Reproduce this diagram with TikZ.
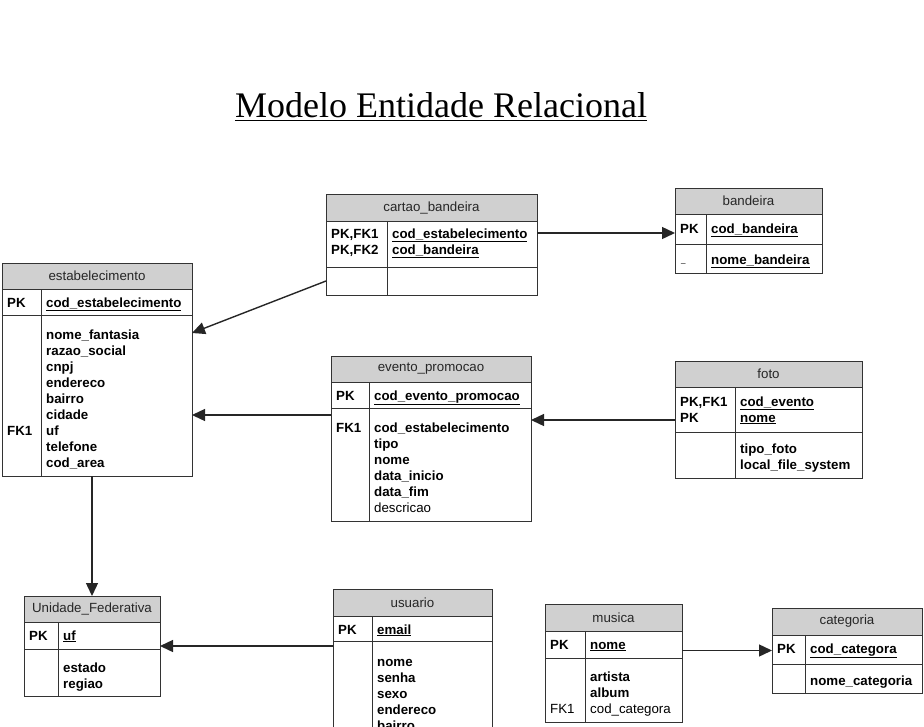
\documentclass[tikz,border=0pt]{standalone}
\usepackage{fontspec}
\setmainfont{Liberation Sans}
\newfontfamily\titlefont{Liberation Serif}
\usetikzlibrary{positioning,arrows.meta}
\definecolor{hdrgray}{RGB}{208,208,208}
\newcommand{\fldsize}{\fontsize{13.3}{16}\selectfont}
% table: name, x, y, width, header h, key h, attr h, divider, title
\newcommand{\ertable}[9]{%
  \node[hdr, minimum width=#4pt, minimum height=#5pt] (#1) at (#2,#3) {#9};
  \node[tblbox, minimum width=#4pt, minimum height=#6pt, below=0pt of #1] (#1-k) {};
  \node[tblbox, minimum width=#4pt, minimum height=#7pt, below=0pt of #1-k] (#1-a) {};
  \draw[rule] ([xshift=#8pt]#1-k.north west) -- ([xshift=#8pt]#1-a.south west);
}

\begin{document}
\begin{tikzpicture}[
  x=1pt, y=-1pt,
  >={Triangle[length=13pt,width=12pt]},
  rule/.style={draw=black!80, line width=0.9pt},
  tblbox/.style={rule, anchor=north west, inner sep=0pt, outer sep=0pt},
  hdr/.style={tblbox, fill=hdrgray, font=\fldsize, text=black!85},
  fld/.style={anchor=base west, inner sep=0pt, font=\fldsize\bfseries},
  reg/.style={anchor=base west, inner sep=0pt, font=\fldsize},
  fk/.style={->, draw=black!85, line width=1.4pt}
]
  \useasboundingbox (0,0) rectangle (924,726);
  \clip (0,0) rectangle (924,726);

  % title
  \node[font=\titlefont\fontsize{36}{40}\selectfont, anchor=base, inner sep=0pt] (title) at (441,117) {Modelo Entidade Relacional};
  \draw[line width=1pt] ([yshift=-3pt]title.base west) -- ([yshift=-3pt]title.base east);

  % tables
  \ertable{estab}{2}{263}{190}{26}{26}{161}{39}{estabelecimento}
  \ertable{cartao}{326}{194}{211}{27}{46}{28}{61}{cartao\_bandeira}
  \ertable{bandeira}{675}{188}{147}{26}{30}{29}{31}{bandeira}
  \ertable{evento}{331}{356}{200}{26}{26}{113}{38}{evento\_promocao}
  \ertable{foto}{675}{361}{187}{26}{45}{46}{60}{foto}
  \ertable{unidade}{24}{596}{136}{26}{27}{47}{34}{Unidade\_Federativa}
  \ertable{usuario}{333}{589}{159}{27}{25}{140}{39}{usuario}
  \ertable{musica}{545}{604}{137}{27}{27}{64}{40}{musica}
  \ertable{categoria}{772}{608}{150}{27}{29}{29}{33}{categoria}

  % estabelecimento
  \node[fld] (estab-pk) at (7,307) {PK};
  \node[fld] (estab-id) at (46,307) {\underline{cod\_estabelecimento}};
  \node[fld] (estab-fk) at (7,435) {FK1};
  \foreach \f [count=\i from 0] in {nome\_fantasia, razao\_social, cnpj, endereco, bairro, cidade, uf, telefone, cod\_area}
    \node[fld] (estab-f\i) at (46,339+16*\i) {\f};

  % cartao_bandeira
  \node[fld] (cartao-pk1) at (331,238) {PK,FK1};
  \node[fld] (cartao-pk2) at (331,254) {PK,FK2};
  \node[fld] (cartao-id1) at (392,238) {\underline{cod\_estabelecimento}};
  \node[fld] (cartao-id2) at (392,254) {\underline{cod\_bandeira}};

  % bandeira
  \node[fld] (bandeira-pk) at (680,233) {PK};
  \node[fld] (bandeira-id) at (711,233) {\underline{cod\_bandeira}};
  \node[reg, font=\fontsize{8}{8}\selectfont] (bandeira-no) at (681,262) {\_};
  \node[fld] (bandeira-f0) at (711,264) {\underline{nome\_bandeira}};

  % evento_promocao
  \node[fld] (evento-pk) at (336,400) {PK};
  \node[fld] (evento-id) at (374,400) {\underline{cod\_evento\_promocao}};
  \node[fld] (evento-fk) at (336,432) {FK1};
  \foreach \f [count=\i from 0] in {cod\_estabelecimento, tipo, nome, data\_inicio, data\_fim}
    \node[fld] (evento-f\i) at (374,432+16*\i) {\f};
  \node[reg] (evento-f5) at (374,512) {descricao};

  % foto
  \node[fld] (foto-pk1) at (680,406) {PK,FK1};
  \node[fld] (foto-pk2) at (680,422) {PK};
  \node[fld] (foto-id1) at (740,406) {\underline{cod\_evento}};
  \node[fld] (foto-id2) at (740,422) {\underline{nome}};
  \node[fld] (foto-f0) at (740,453) {tipo\_foto};
  \node[fld] (foto-f1) at (740,469) {local\_file\_system};

  % Unidade_Federativa
  \node[fld] (unidade-pk) at (29,640) {PK};
  \node[fld] (unidade-id) at (63,640) {\underline{uf}};
  \node[fld] (unidade-f0) at (63,672) {estado};
  \node[fld] (unidade-f1) at (63,688) {regiao};

  % usuario
  \node[fld] (usuario-pk) at (338,634) {PK};
  \node[fld] (usuario-id) at (377,634) {\underline{email}};
  \foreach \f [count=\i from 0] in {nome, senha, sexo, endereco, bairro}
    \node[fld] (usuario-f\i) at (377,666+16*\i) {\f};

  % musica
  \node[fld] (musica-pk) at (550,649) {PK};
  \node[fld] (musica-id) at (590,649) {\underline{nome}};
  \node[fld] (musica-f0) at (590,681) {artista};
  \node[fld] (musica-f1) at (590,697) {album};
  \node[reg] (musica-fk) at (550,713) {FK1};
  \node[reg] (musica-f2) at (590,713) {cod\_categora};

  % categoria
  \node[fld] (categoria-pk) at (777,653) {PK};
  \node[fld] (categoria-id) at (810,653) {\underline{cod\_categora}};
  \node[fld] (categoria-f0) at (810,685) {nome\_categoria};

  % relationships
  \coordinate (cb) at ([yshift=-12pt]cartao-k.north east);
  \coordinate (ee) at ([yshift=-7pt]evento-a.north west);
  \coordinate (fe) at ([yshift=12pt]foto-k.south west);
  \coordinate (uu) at ([yshift=-5pt]usuario-a.north west);
  \coordinate (mc) at ([yshift=-6pt]musica-k.east);

  \draw[fk] (cb) -- (cb -| bandeira-k.west);
  \draw[fk] (cartao-a.west) -- ([yshift=-18pt]estab-a.north east);
  \draw[fk] (ee) -- (ee -| estab-a.east);
  \draw[fk] (fe) -- (fe -| evento-a.east);
  \draw[fk] (unidade.north |- estab-a.south) -- (unidade.north);
  \draw[fk] (uu) -- (uu -| unidade-k.east);
  \draw[fk] (mc) -- (mc -| categoria-k.west);
\end{tikzpicture}
\end{document}
